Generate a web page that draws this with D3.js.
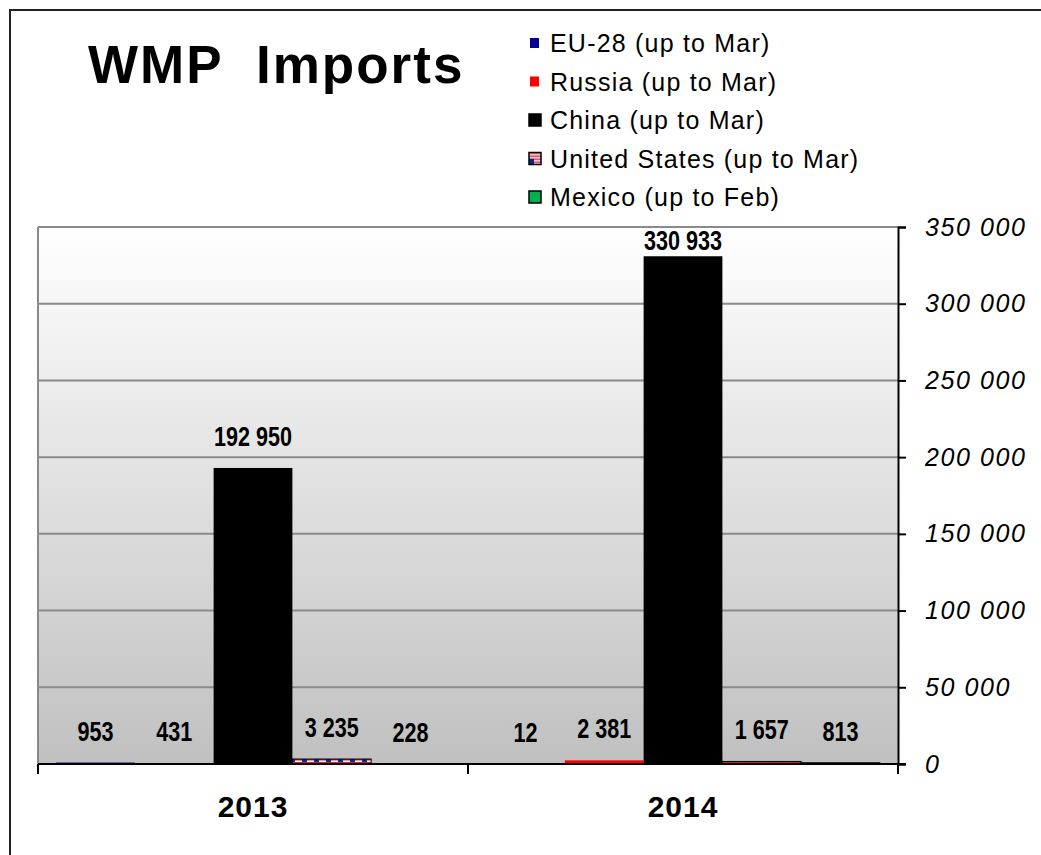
<!DOCTYPE html>
<html>
<head>
<meta charset="utf-8">
<script src="https://cdn.jsdelivr.net/npm/d3@7"></script>
<style>
  body { margin: 0; background: #fff; }
  svg { display: block; }
  text { font-family: "Liberation Sans", Arial, sans-serif; fill: #000; }
  .val { font-family: "Liberation Sans", Arial, sans-serif; font-weight: bold; font-size: 27px; }
</style>
</head>
<body>
<div id="chart"></div>
<script>
var width = 1041;
var height = 855;

// data
var years = ["2013", "2014"];
var seriesNames = ["EU-28 (up to Mar)", "Russia (up to Mar)", "China (up to Mar)", "United States (up to Mar)", "Mexico (up to Feb)"];
var seriesColors = ["#000099", "#ff0000", "#000000", "url(#usflag)", "#00b050"];
var values2013 = [953, 431, 192950, 3235, 228];
var values2014 = [12, 2381, 330933, 1657, 813];
var yTicks = [0, 50000, 100000, 150000, 200000, 250000, 300000, 350000];

var plotLeft = 38, plotRight = 898, plotTop = 227, plotBottom = 764;

var svg = d3.select("#chart").append("svg")
  .attr("width", width)
  .attr("height", height);

var defs = svg.append("defs");
var grad = defs.append("linearGradient")
  .attr("id", "bg")
  .attr("x1", 0).attr("y1", 0).attr("x2", 0).attr("y2", 1);
grad.append("stop").attr("offset", "0%").attr("stop-color", "#ffffff");
grad.append("stop").attr("offset", "100%").attr("stop-color", "#c0c0c0");

// little flag fill for the US series
var flag = defs.append("pattern")
  .attr("id", "usflag")
  .attr("patternUnits", "userSpaceOnUse")
  .attr("width", 12).attr("height", 12);
flag.append("rect").attr("width", 12).attr("height", 12).attr("fill", "#ffffff");
[0, 3, 6, 9].forEach(function(s) {
  flag.append("rect").attr("y", s).attr("width", 12).attr("height", 1.5).attr("fill", "#d02030");
});
flag.append("rect").attr("width", 5).attr("height", 6).attr("fill", "#202080");

// outer frame
svg.append("rect")
  .attr("x", 10).attr("y", 10)
  .attr("width", width + 20).attr("height", height + 20)
  .attr("fill", "none")
  .attr("stroke", "#222")
  .attr("stroke-width", 2);

var table = years.map(function(yr, i) {
  return { year: yr, values: i == 0 ? values2013 : values2014 };
});

var x0 = d3.scaleBand().domain(years).range([plotLeft, plotRight]).padding(0);
var x1 = d3.scaleBand().domain(d3.range(seriesNames.length))
  .range([0, x0.bandwidth()]).paddingInner(0).paddingOuter(0.23);
var y = d3.scaleLinear().domain([0, 350000]).range([plotBottom, plotTop]);

var fmt = d3.formatLocale({ decimal: ".", thousands: " ", grouping: [3], currency: ["", ""] }).format(",");

// plot background
svg.append("rect")
  .attr("x", plotLeft).attr("y", plotTop)
  .attr("width", plotRight - plotLeft).attr("height", plotBottom - plotTop)
  .attr("fill", "url(#bg)");

// gridlines
svg.append("g")
  .selectAll("line")
  .data(yTicks.slice(1))
  .enter()
  .append("line")
  .attr("x1", plotLeft).attr("x2", plotRight)
  .attr("y1", function(d) { return y(d); })
  .attr("y2", function(d) { return y(d); })
  .attr("stroke", "#8a8a8a")
  .attr("stroke-width", 2);

svg.append("line")
  .attr("x1", plotLeft).attr("x2", plotLeft)
  .attr("y1", plotTop).attr("y2", plotBottom)
  .attr("stroke", "#8a8a8a")
  .attr("stroke-width", 2);

// bars
var groups = svg.append("g")
  .selectAll("g")
  .data(table)
  .enter()
  .append("g")
  .attr("transform", function(d) { return "translate(" + x0(d.year) + ",0)"; });

groups.selectAll("rect")
  .data(function(d) { return d.values.map(function(v, i) { return { i: i, value: v }; }); })
  .enter()
  .append("rect")
  .attr("x", function(d) { return x1(d.i); })
  .attr("y", function(d) { return y(d.value); })
  .attr("width", x1.bandwidth())
  .attr("height", function(d) { return plotBottom - y(d.value); })
  .attr("fill", function(d) { return seriesColors[d.i]; })
  .attr("stroke", function(d) { return d.i >= 3 ? "#000" : "none"; })
  .attr("stroke-width", 1);

// value labels, squeezed sideways to look like a narrow face
groups.selectAll("text")
  .data(function(d) { return d.values.map(function(v, i) { return { i: i, value: v }; }); })
  .enter()
  .append("text")
  .attr("class", "val")
  .attr("text-anchor", "middle")
  .attr("transform", function(d) {
    var lx = x1(d.i) + x1.bandwidth() / 2;
    var ly = Math.max(y(d.value) - 22, plotTop + 23);
    return "translate(" + lx + "," + ly + ") scale(0.8,1)";
  })
  .text(function(d) { return fmt(d.value); });

// x axis
var xAxis = svg.append("g")
  .attr("transform", "translate(0," + plotBottom + ")");
xAxis.append("line")
  .attr("x1", plotLeft).attr("x2", plotRight + 8)
  .attr("stroke", "#000").attr("stroke-width", 2);
xAxis.selectAll("line.tick")
  .data([plotLeft, x0("2014"), plotRight])
  .enter()
  .append("line")
  .attr("class", "tick")
  .attr("x1", function(d) { return d; }).attr("x2", function(d) { return d; })
  .attr("y1", 0).attr("y2", 10)
  .attr("stroke", "#000").attr("stroke-width", 2);
xAxis.selectAll("text")
  .data(years)
  .enter()
  .append("text")
  .attr("x", function(d) { return x0(d) + x0.bandwidth() / 2; })
  .attr("y", 53)
  .attr("text-anchor", "middle")
  .style("font-weight", "bold")
  .style("font-size", "30px")
  .style("letter-spacing", "1px")
  .text(function(d) { return d; });

// y axis on the right
var yAxis = d3.axisRight(y)
  .tickValues(yTicks)
  .tickSize(8)
  .tickPadding(19)
  .tickFormat(function(d) { return fmt(d); });

var ya = svg.append("g")
  .attr("transform", "translate(" + plotRight + ",0)")
  .call(yAxis);
ya.select(".domain").attr("stroke", "#000").attr("stroke-width", 2);
ya.selectAll(".tick line").attr("stroke", "#000").attr("stroke-width", 2);
ya.selectAll(".tick text")
  .style("font-family", "'Liberation Sans', Arial, sans-serif")
  .style("font-style", "italic")
  .style("font-size", "25px")
  .style("letter-spacing", "1.6px")
  .attr("fill", "#000");

// title
svg.append("text")
  .attr("x", 88)
  .attr("y", 83)
  .attr("xml:space", "preserve")
  .style("white-space", "pre")
  .style("font-weight", "bold")
  .style("font-size", "53px")
  .style("letter-spacing", "2px")
  .text("WMP  Imports");

// legend
var legend = svg.append("g")
  .selectAll("g")
  .data(seriesNames)
  .enter()
  .append("g")
  .attr("transform", function(d, i) { return "translate(529," + (43 + i * 38.5) + ")"; });

legend.append("rect")
  .attr("x", function(d, i) { return i < 2 ? 1 : 0; })
  .attr("y", function(d, i) { return i < 2 ? -5 : -6; })
  .attr("width", function(d, i) { return i < 2 ? 9 : 12; })
  .attr("height", function(d, i) { return i < 2 ? 10 : 12; })
  .attr("fill", function(d, i) { return seriesColors[i]; })
  .attr("stroke", function(d, i) { return i >= 2 ? "#000" : "none"; })
  .attr("stroke-width", 1.5);

legend.append("text")
  .attr("x", 21)
  .attr("y", 9)
  .style("font-size", "25px")
  .style("letter-spacing", "1.2px")
  .text(function(d) { return d; });
</script>
</body>
</html>
